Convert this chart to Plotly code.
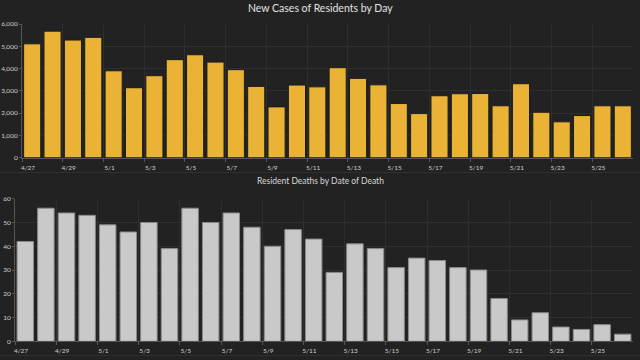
import plotly.graph_objects as go

dates = ["4/27", "4/28", "4/29", "4/30", "5/1", "5/2", "5/3", "5/4", "5/5", "5/6",
         "5/7", "5/8", "5/9", "5/10", "5/11", "5/12", "5/13", "5/14", "5/15", "5/16",
         "5/17", "5/18", "5/19", "5/20", "5/21", "5/22", "5/23", "5/24", "5/25", "5/26"]
new_cases = [5110, 5680, 5280, 5400, 3900, 3140, 3680, 4400, 4620, 4290,
             3950, 3200, 2280, 3260, 3180, 4040, 3560, 3270, 2430, 1980,
             2780, 2870, 2880, 2330, 3320, 2040, 1610, 1890, 2330, 2330]
deaths = [42, 56, 54, 53, 49, 46, 50, 39, 56, 50,
          54, 48, 40, 47, 43, 29, 41, 39, 31, 35,
          34, 31, 30, 18, 9, 12, 6, 5, 7, 3]
title_top = "New Cases of Residents by Day"
title_bottom = "Resident Deaths by Date of Death"

idx = list(range(len(dates)))
xpos = [i + 0.5 for i in idx]
tickvals = idx[::2]
ticktext = dates[::2]

BG = "#222222"
GRID = "#2e2e2e"
AXIS = "#555555"
TXT = "#cfcfcf"
FONT = "Lato, Open Sans, sans-serif"

fig = go.Figure()
fig.add_trace(go.Bar(x=xpos, y=new_cases, xaxis="x", yaxis="y",
                     marker=dict(color="#EAB336", line=dict(color="#1c1c1c", width=1)),
                     width=0.84, hoverinfo="x+y"))
fig.add_trace(go.Bar(x=xpos, y=deaths, xaxis="x2", yaxis="y2",
                     marker=dict(color="#C9C9C9", line=dict(color="#8a8a8a", width=1)),
                     width=0.8, hoverinfo="x+y"))

xcommon = dict(range=[0, len(dates)], tickmode="array", tickvals=tickvals, ticktext=ticktext,
               showgrid=True, gridcolor=GRID, gridwidth=1, showline=True, linecolor=AXIS,
               ticks="outside", ticklen=3, tickcolor=AXIS, tickfont=dict(size=6.5, color=TXT, family=FONT),
               ticklabelshift=6, zeroline=False, fixedrange=True, automargin=False)
ycommon = dict(showgrid=True, gridcolor=GRID, gridwidth=1, showline=True, linecolor=AXIS,
               ticks="outside", ticklen=2, tickcolor=AXIS, tickfont=dict(size=6.5, color=TXT, family=FONT),
               zeroline=False, fixedrange=True, automargin=False)

fig.update_layout(
    width=640, height=360,
    margin=dict(l=0, r=0, t=0, b=0),
    paper_bgcolor=BG, plot_bgcolor=BG,
    showlegend=False, bargap=0.15,
    font=dict(family=FONT, color=TXT),
    xaxis=dict(domain=[22 / 640, 633 / 640], anchor="y", **xcommon),
    yaxis=dict(domain=[(360 - 157.7) / 360, (360 - 24) / 360], range=[0, 6000], dtick=1000,
               tickformat=",", anchor="x", **ycommon),
    xaxis2=dict(domain=[15 / 640, 633 / 640], anchor="y2", **xcommon),
    yaxis2=dict(domain=[(360 - 341.3) / 360, (360 - 198.7) / 360], range=[0, 60], dtick=10,
                anchor="x2", **ycommon),
    annotations=[
        dict(text=title_top, x=0.5, y=1 - 8 / 360, xref="paper", yref="paper",
             showarrow=False, xanchor="center", yanchor="middle",
             font=dict(size=10.5, color="#e2e2e2", family=FONT)),
        dict(text=title_bottom, x=0.5, y=1 - 181 / 360, xref="paper", yref="paper",
             showarrow=False, xanchor="center", yanchor="middle",
             font=dict(size=8.5, color="#d8d8d8", family=FONT)),
    ],
    shapes=[
        dict(type="line", xref="paper", yref="paper", x0=0, x1=1,
             y0=1 - 172.5 / 360, y1=1 - 172.5 / 360, line=dict(color="#2f2f2f", width=1)),
        dict(type="line", xref="paper", yref="paper", x0=0, x1=1,
             y0=1 - 355.5 / 360, y1=1 - 355.5 / 360, line=dict(color="#2f2f2f", width=1)),
    ],
)

fig.write_html("out.html", config={"displayModeBar": False},
               post_script="document.body.style.margin='0';document.body.style.background='#222222';")
